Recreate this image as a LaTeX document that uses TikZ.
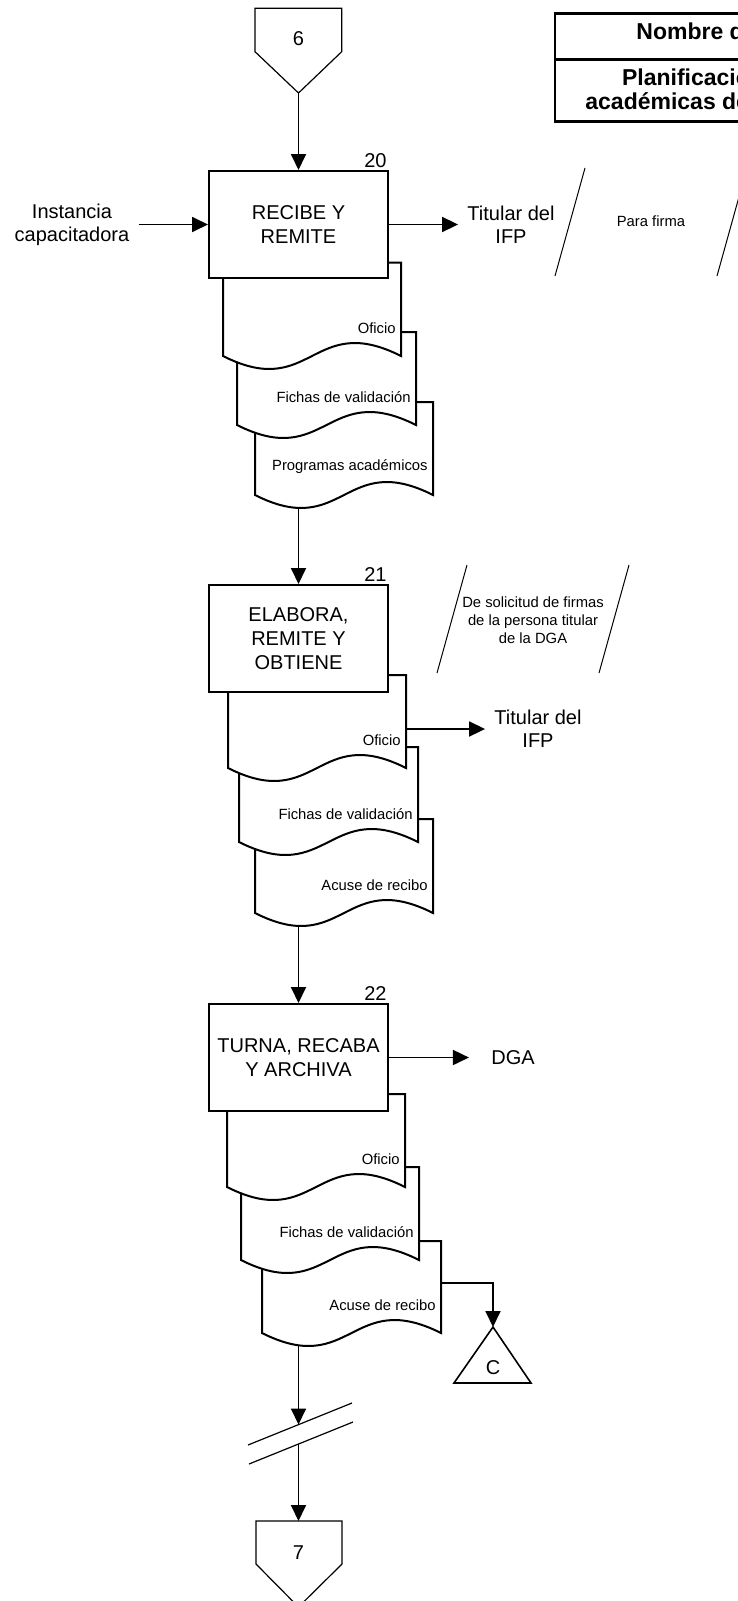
\documentclass[tikz,border=0pt]{standalone}
\usepackage{fontspec}
\setmainfont{Liberation Sans}
\usetikzlibrary{arrows.meta,positioning}

% document symbol: name, left, right, top, wave end, text
\newcommand{\docshape}[6]{%
  \filldraw[docline] (#2,#5) |- (#3,#4) -- (#3,#5)
    .. controls ({(#2+#3)/2},{#5-45}) and ({(#2+#3)/2},{#5+45}) .. (#2,#5) -- cycle;
  \node[doctext, anchor=east] (#1) at ({#3-5},{#5-28}) {#6};
}

\begin{document}
\begin{tikzpicture}[x=0.5pt, y=-0.5pt,
  font=\fontsize{10}{11.5}\selectfont,
  proc/.style={draw, line width=1pt, fill=white, align=center,
    minimum width=89.5pt, minimum height=53.5pt, inner sep=0pt,
    font=\fontsize{10}{12}\selectfont},
  num/.style={inner sep=1pt, font=\fontsize{10}{12}\selectfont},
  ext/.style={align=center, inner sep=4.5pt},
  doctext/.style={inner sep=0pt, font=\fontsize{7.4}{9}\selectfont},
  docline/.style={line width=1pt, fill=white},
  note/.style={align=center, inner sep=0pt, font=\fontsize{7.4}{9}\selectfont},
  slant/.style={line width=0.5pt},
  conn/.style={line width=0.6pt},
  arr/.style={-{Triangle[length=8pt,width=7.5pt]}, line width=0.9pt},
  titletext/.style={anchor=west, inner sep=0pt,
    font=\fontsize{11.5}{13}\selectfont\bfseries}
]
  \fill[white] (0,0) rectangle (738,1601);
  \useasboundingbox (0,0) rectangle (738,1601);

  % title box (runs off the page)
  \draw[line width=1.4pt] (555,13.3) rectangle (800,121.7);
  \draw[line width=1.4pt] (555,59.3) -- (800,59.3);
  \node[titletext] (tit1) at (636,34) {Nombre del procedimiento};
  \node[titletext] (tit2) at (621.7,77) {Planificación};
  \node[titletext] (tit3) at (585,101) {académicas de};

  % off-page connector 6
  \draw[conn, fill=white] (255,8.3) -- (341.7,8.3) -- (341.7,51.7)
    -- (298.5,93) -- (255,51.7) -- cycle;
  \node (c6) at (298.5,39) {6};
  \coordinate (c6-tip) at (298.5,93);

  % step 20
  \docshape{d20c}{255}{433}{402}{495}{Programas académicos}
  \docshape{d20b}{237}{416}{332}{425}{Fichas de validación}
  \docshape{d20a}{223}{401}{262.7}{356}{Oficio}
  \node[proc] (p20) at (298.5,224.5) {RECIBE Y\\REMITE};
  \node[num, anchor=south east] (n20) at (p20.north east) {20};
  \node[ext] (src) at (72,224.5) {Instancia\\capacitadora};
  \node[ext] (t20) at (511,224.5) {Titular del\\IFP};
  \draw[slant] (585,168) -- (555,276);
  \draw[slant] (747,168) -- (717,276);
  \node[note] (nota20) at (651,221) {Para firma};
  \coordinate (d20c-s) at (298.5,507);

  % step 21
  \docshape{d21c}{255}{433}{819}{913}{Acuse de recibo}
  \docshape{d21b}{239}{418}{747}{842}{Fichas de validación}
  \docshape{d21a}{228}{406}{675}{768}{Oficio}
  \node[proc] (p21) at (298.5,638.5) {ELABORA,\\REMITE Y\\OBTIENE};
  \node[num, anchor=south east] (n21) at (p21.north east) {21};
  \draw[slant] (467,565) -- (437,673);
  \draw[slant] (629,565) -- (599,673);
  \node[note] (nota21) at (533,620) {De solicitud de firmas\\de la persona titular\\de la DGA};
  \node[ext] (t21) at (538,729) {Titular del\\IFP};
  \coordinate (d21a-r) at (406,729);
  \coordinate (d21c-s) at (298.5,925);

  % step 22
  \docshape{d22c}{262}{441}{1241}{1333}{Acuse de recibo}
  \docshape{d22b}{241}{419}{1167}{1260}{Fichas de validación}
  \docshape{d22a}{227}{405}{1094}{1187}{Oficio}
  \node[proc] (p22) at (298.5,1057.5) {TURNA, RECABA\\Y ARCHIVA};
  \node[num, anchor=south east] (n22) at (p22.north east) {22};
  \node[ext, inner xsep=11pt] (dga) at (513,1057.5) {DGA};
  \coordinate (d22c-r) at (441,1283);
  \coordinate (d22c-s) at (298.5,1345);

  % archive C
  \draw[line width=0.8pt, fill=white] (493,1327) -- (531,1383) -- (454,1383) -- cycle;
  \node (cC) at (493,1368) {C};
  \coordinate (cC-top) at (493,1327);

  % break
  \draw[conn] (248,1445) -- (352,1403);
  \draw[conn] (249,1464) -- (353,1422);
  \coordinate (brk-a) at (298.5,1424.5);
  \coordinate (brk-b) at (298.5,1443.5);

  % off-page connector 7
  \draw[conn, fill=white] (256,1521) -- (342,1521) -- (342,1564)
    -- (298.5,1607) -- (256,1564) -- cycle;
  \node (c7) at (298.5,1553) {7};
  \coordinate (c7-top) at (298.5,1521);

  \draw[arr] (c6-tip) -- (p20.north);
  \draw[arr] (src) -- (p20);
  \draw[arr] (p20) -- (t20);
  \draw[arr] (d20c-s) -- (p21.north);
  \draw[arr] (d21a-r) -- (t21);
  \draw[arr] (d21c-s) -- (p22.north);
  \draw[arr] (p22) -- (dga);
  \draw[arr] (d22c-r) -| (cC-top);
  \draw[arr] (d22c-s) -- (brk-a);
  \draw[arr] (brk-b) -- (c7-top);
\end{tikzpicture}
\end{document}
